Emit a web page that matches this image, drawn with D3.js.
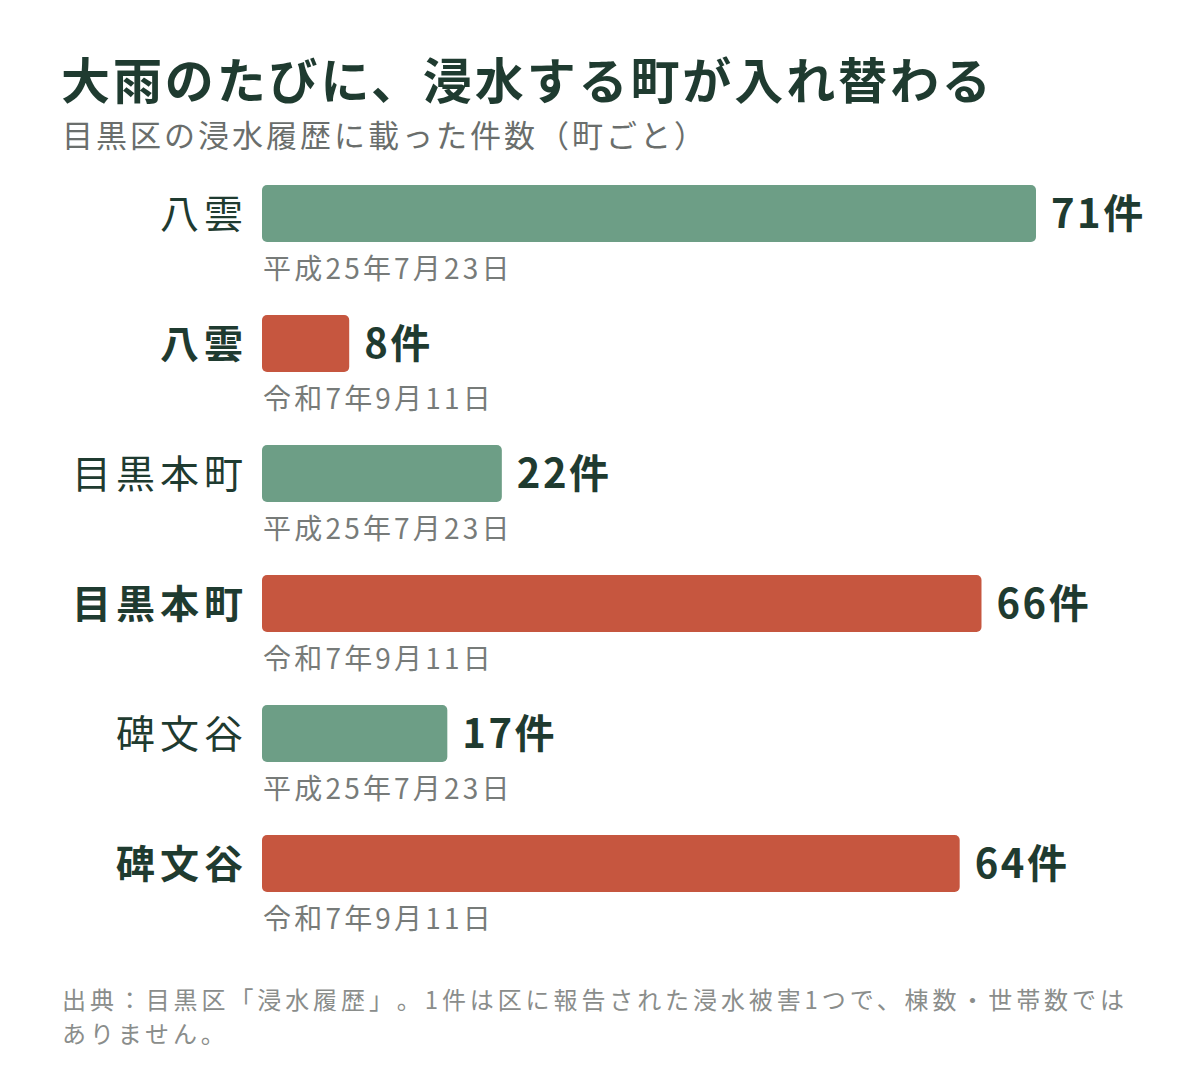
<!DOCTYPE html>
<html>
<head>
<meta charset="utf-8">
<script src="https://cdn.jsdelivr.net/npm/d3@7"></script>
<style>
  html, body { margin: 0; padding: 0; background: #fff; }
  svg { display: block; font-family: "Noto Sans CJK JP", "Noto Sans", sans-serif; text-spacing-trim: space-all; }
</style>
</head>
<body>
<svg id="chart" width="1200" height="1086"></svg>
<script>
// data
const towns  = ['八雲', '八雲', '目黒本町', '目黒本町', '碑文谷', '碑文谷'];
const events = ['平成25年7月23日', '令和7年9月11日', '平成25年7月23日', '令和7年9月11日', '平成25年7月23日', '令和7年9月11日'];
const counts = [71, 8, 22, 66, 17, 64];
const isLatest = [false, true, false, true, false, true];

const title    = '大雨のたびに、浸水する町が入れ替わる';
const subtitle = '目黒区の浸水履歴に載った件数（町ごと）';
const notes    = ['出典：目黒区「浸水履歴」。1件は区に報告された浸水被害1つで、棟数・世帯数では', 'ありません。'];

/* **************************************************************** *
 *   Config
 * **************************************************************** */
const ink   = '#1f3b30';
const gray  = '#777b79';
const green = '#6d9e86';
const red   = '#c6563f';

const svg = d3.select('#chart');
const rows = counts.map((c, i) => ({ i: i, town: towns[i], event: events[i], count: c, latest: isLatest[i] }));

let x = d3.scaleLinear()
    .domain([0, d3.max(counts)])
    .range([262, 1036]);

let y = d3.scaleBand()
    .domain(rows.map((d) => d.i))
    .range([185, 892])
    .paddingInner(0.5615)
    .paddingOuter(0);

/* **************************************************************** *
 *   Header
 * **************************************************************** */
svg.append('text')
    .attr('x', 61).attr('y', 99)
    .attr('font-size', 49).attr('font-weight', 700)
    .attr('letter-spacing', 2.9)
    .attr('fill', ink)
    .text(title);

svg.append('text')
    .attr('x', 62).attr('y', 147)
    .attr('font-size', 31).attr('letter-spacing', 3)
    .attr('fill', '#6a6e6c')
    .text(subtitle);

/* **************************************************************** *
 *   Bars
 * **************************************************************** */
let g = svg.append('g').attr('class', 'bars');

g.selectAll('rect.bar')
    .data(rows)
    .enter()
    .append('rect')
    .attr('class', 'bar')
    .attr('x', x(0))
    .attr('y', (d) => y(d.i))
    .attr('width', (d) => x(d.count) - x(0))
    .attr('height', y.bandwidth())
    .attr('rx', 5)
    .attr('fill', (d) => d.latest ? red : green);

g.selectAll('text.town')
    .data(rows)
    .enter()
    .append('text')
    .attr('class', 'town')
    .attr('x', x(0) - 14)
    .attr('y', (d) => y(d.i) + y.bandwidth() / 2)
    .attr('dy', '0.36em')
    .attr('text-anchor', 'end')
    .attr('font-size', 39)
    .attr('letter-spacing', 5)
    .attr('font-weight', (d) => d.latest ? 700 : 400)
    .attr('fill', ink)
    .text((d) => d.town);

g.selectAll('text.value')
    .data(rows)
    .enter()
    .append('text')
    .attr('class', 'value')
    .attr('x', (d) => x(d.count) + 15)
    .attr('y', (d) => y(d.i) + y.bandwidth() / 2)
    .attr('dy', '0.36em')
    .attr('font-size', 40)
    .attr('font-weight', 700)
    .attr('letter-spacing', 2.5)
    .attr('fill', ink)
    .text((d) => d.count + '件');

g.selectAll('text.event')
    .data(rows)
    .enter()
    .append('text')
    .attr('class', 'event')
    .attr('x', x(0) + 1)
    .attr('y', (d) => y(d.i) + y.bandwidth() + 37)
    .attr('font-size', 28)
    .attr('letter-spacing', 3.2)
    .attr('fill', gray)
    .text((d) => d.event);

/* **************************************************************** *
 *   Footer
 * **************************************************************** */
svg.append('g')
    .selectAll('text.note')
    .data(notes)
    .enter()
    .append('text')
    .attr('class', 'note')
    .attr('x', 62)
    .attr('y', (d, i) => 1009 + i * 34)
    .attr('font-size', 24)
    .attr('letter-spacing', 3.9)
    .attr('fill', '#8a8d8b')
    .text((d) => d);
</script>
</body>
</html>
